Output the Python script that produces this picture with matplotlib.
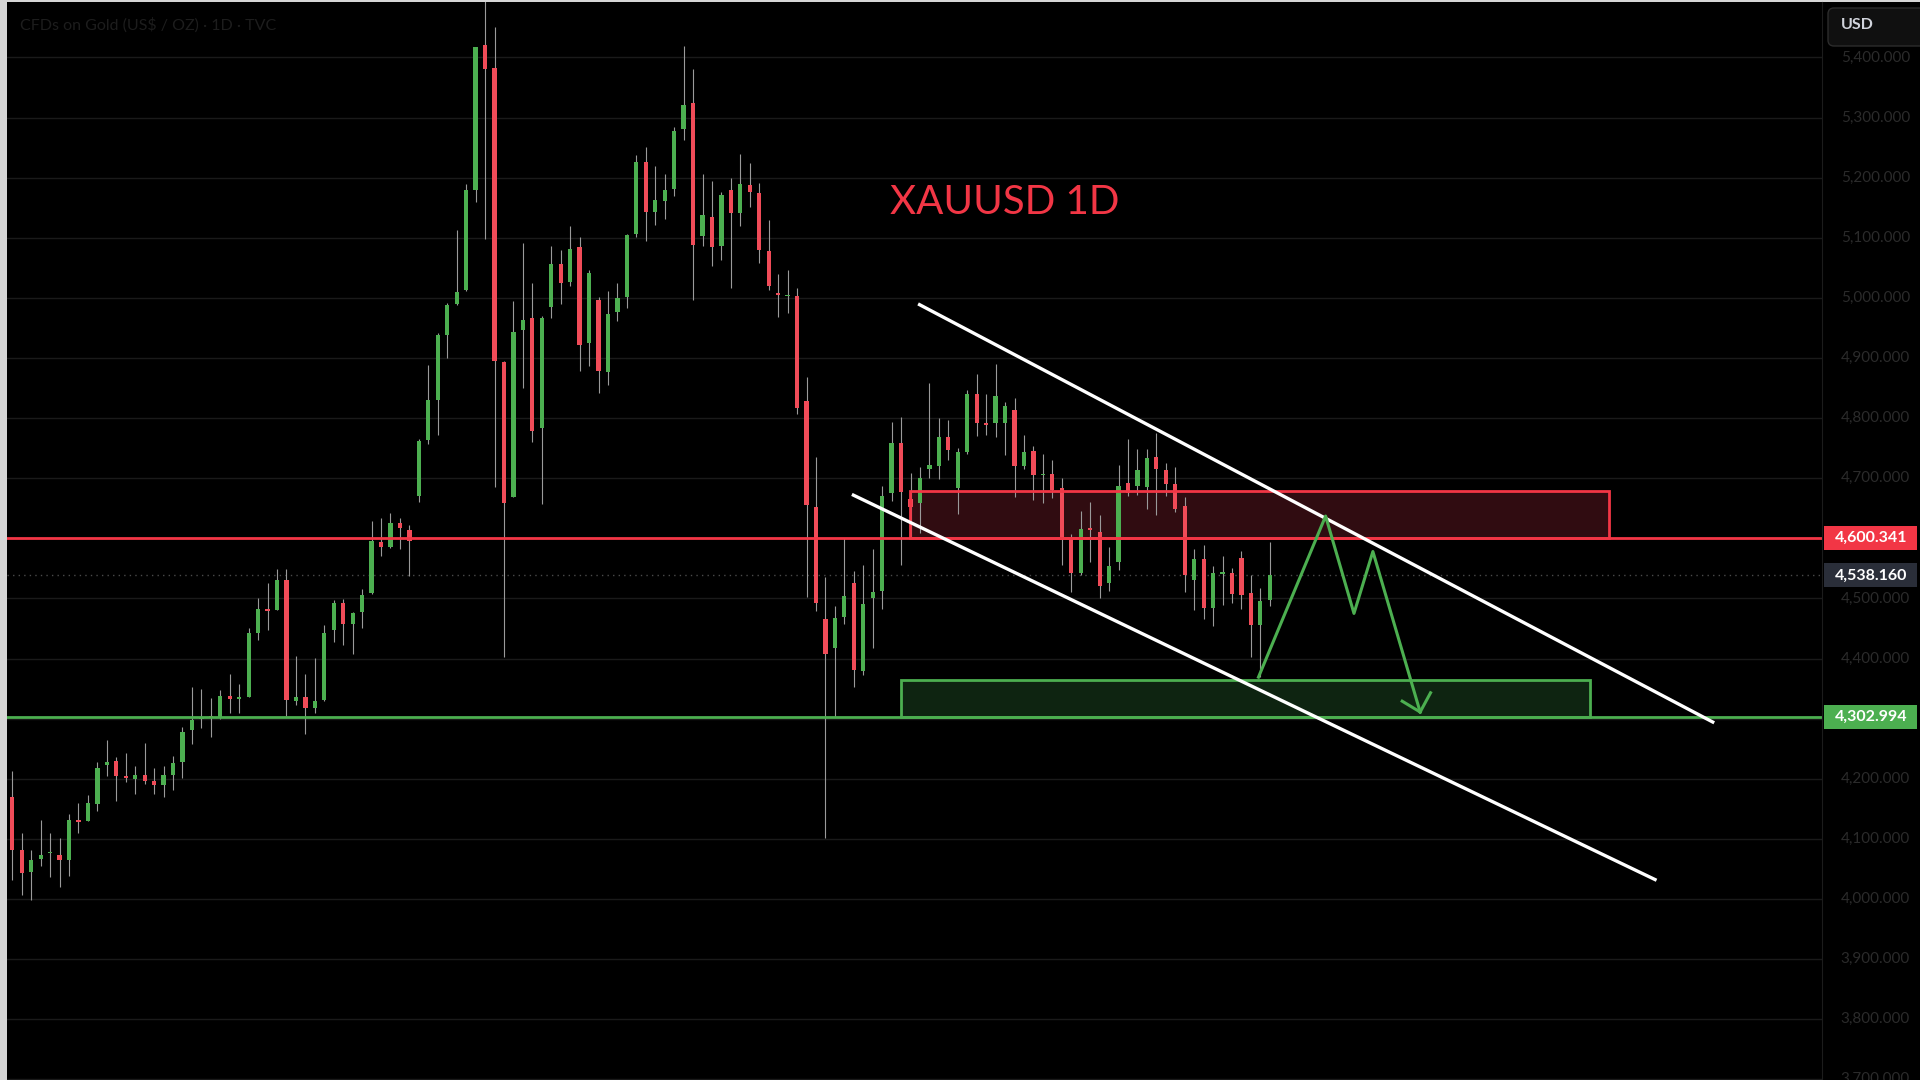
import matplotlib
matplotlib.use('Agg')
import matplotlib.pyplot as plt
import matplotlib.patches as patches

plt.rcParams['font.family'] = ['Lato', 'DejaVu Sans']

# daily candles (USD / oz)
opens = [4169, 4082, 4044, 4066, 4076, 4073, 4065, 4131, 4130, 4158,
         4222, 4229, 4205, 4200, 4206, 4197, 4190, 4206, 4228, 4281,
         4300, 4303, 4302, 4337, 4333, 4336, 4443, 4482, 4480, 4531,
         4330, 4336, 4318, 4331, 4448, 4493, 4457, 4478, 4509, 4594,
         4586, 4626, 4614, 4671, 4763, 4830, 4938, 4989, 5013, 5180,
         5421, 5383, 4893, 4669, 4947, 4966, 4784, 4985, 5056, 5026,
         5084, 4925, 4996, 4876, 4976, 5001, 5107, 5226, 5143, 5162,
         5181, 5281, 5324, 5103, 5134, 5086, 5180, 5141, 5187, 5175,
         5078, 5006, 5003, 5003, 4828, 4652, 4466, 4418, 4469, 4525,
         4380, 4500, 4513, 4675, 4758, 4665, 4659, 4716, 4720, 4768,
         4683, 4744, 4840, 4792, 4791, 4791, 4814, 4720, 4746, 4705,
         4707, 4683, 4598, 4542, 4616, 4611, 4525, 4560, 4692, 4687,
         4686, 4735, 4714, 4690, 4653, 4530, 4565, 4484, 4541, 4542,
         4567, 4509, 4456, 4497]
highs = [4212, 4110, 4082, 4131, 4110, 4101, 4141, 4160, 4173, 4227,
         4264, 4236, 4242, 4221, 4259, 4218, 4221, 4238, 4286, 4352,
         4350, 4335, 4348, 4374, 4358, 4450, 4500, 4525, 4549, 4549,
         4404, 4374, 4401, 4456, 4497, 4499, 4478, 4516, 4629, 4633,
         4642, 4633, 4622, 4766, 4889, 4941, 4992, 5113, 5189, 5417,
         5495, 5451, 4895, 4994, 5092, 5024, 4970, 5086, 5080, 5119,
         5101, 5046, 5001, 5012, 5024, 5106, 5238, 5251, 5219, 5206,
         5285, 5419, 5381, 5206, 5194, 5176, 5199, 5239, 5225, 5191,
         5129, 5040, 5046, 5017, 4868, 4736, 4536, 4487, 4601, 4545,
         4555, 4582, 4687, 4794, 4801, 4708, 4718, 4858, 4800, 4796,
         4750, 4847, 4873, 4840, 4890, 4827, 4833, 4772, 4753, 4740,
         4731, 4701, 4607, 4646, 4661, 4639, 4586, 4722, 4766, 4748,
         4748, 4775, 4726, 4718, 4668, 4583, 4589, 4554, 4571, 4550,
         4579, 4539, 4517, 4594]
lows = [4031, 4006, 3998, 4055, 4037, 4020, 4038, 4110, 4129, 4147,
        4205, 4163, 4195, 4175, 4191, 4175, 4170, 4181, 4202, 4257,
        4284, 4269, 4300, 4309, 4309, 4336, 4431, 4447, 4480, 4305,
        4323, 4274, 4309, 4330, 4427, 4423, 4407, 4451, 4507, 4570,
        4584, 4582, 4538, 4661, 4757, 4772, 4900, 4988, 5012, 5159,
        5098, 4685, 4403, 4669, 4850, 4760, 4657, 4967, 4989, 5020,
        4879, 4887, 4842, 4855, 4962, 4984, 5101, 5094, 5122, 5132,
        5169, 5262, 4997, 5086, 5053, 5063, 5016, 5120, 5151, 5058,
        5013, 4968, 4975, 4807, 4502, 4479, 4101, 4303, 4458, 4353,
        4372, 4418, 4483, 4662, 4555, 4600, 4608, 4700, 4699, 4730,
        4640, 4741, 4770, 4772, 4769, 4739, 4669, 4716, 4664, 4658,
        4667, 4556, 4511, 4539, 4561, 4500, 4513, 4547, 4671, 4672,
        4648, 4639, 4670, 4643, 4511, 4481, 4465, 4454, 4489, 4492,
        4482, 4403, 4370, 4487]
closes = [4081, 4043, 4065, 4073, 4078, 4064, 4131, 4128, 4160, 4217,
          4227, 4205, 4202, 4206, 4197, 4190, 4206, 4226, 4277, 4297,
          4303, 4301, 4337, 4333, 4336, 4442, 4482, 4479, 4531, 4331,
          4336, 4317, 4329, 4443, 4493, 4457, 4475, 4505, 4596, 4586,
          4625, 4617, 4595, 4762, 4830, 4939, 4988, 5009, 5180, 5417,
          5381, 4895, 4659, 4943, 4963, 4778, 4966, 5056, 5024, 5082,
          4921, 5042, 4879, 4973, 5000, 5105, 5226, 5143, 5163, 5180,
          5278, 5321, 5088, 5138, 5084, 5172, 5141, 5189, 5177, 5080,
          5019, 5005, 5004, 4817, 4655, 4492, 4407, 4468, 4504, 4381,
          4490, 4510, 4670, 4758, 4677, 4652, 4700, 4722, 4768, 4747,
          4743, 4840, 4792, 4789, 4836, 4820, 4720, 4743, 4705, 4707,
          4681, 4597, 4543, 4615, 4614, 4521, 4554, 4687, 4676, 4714,
          4733, 4715, 4690, 4648, 4539, 4565, 4484, 4542, 4543, 4508,
          4506, 4456, 4495, 4538.16]

price_ticks = list(range(3700, 5500, 100))
red_level = 4600.341
green_level = 4302.994
last_price = 4538.160
title = 'XAUUSD 1D'
symbol_text = 'CFDs on Gold (US$ / OZ) · 1D · TVC'

# drawings, in (bar index, price)
red_zone = [94.9, 168.9, 4600.341, 4678]
green_zone = [94.0, 166.9, 4302.994, 4365]
upper_channel_x = [95.8, 180.0]
upper_channel_y = [4990, 4293]
lower_channel_x = [88.8, 173.9]
lower_channel_y = [4673, 4031]
path_x = [131.8, 138.9, 141.9, 143.9, 148.9]
path_y = [4369, 4637, 4475, 4578, 4311]
wing_x = [147.0, 150.0]
wing_y = [4329, 4343]

UP = '#4caf50'
DOWN = '#f04b58'
RED = '#f23645'
W, H = 1920, 1080
ylo, yhi = 3698.7, 5492.3

fig = plt.figure(figsize=(19.2, 10.8), dpi=100, facecolor='#d6d6d6')
ax = fig.add_axes([7 / W, 0, 1815 / W, 1078 / H], facecolor='black')
ax.set_xlim(-0.56, 191.4)
ax.set_ylim(ylo, yhi)
ax.set_xticks([])
ax.set_yticks([])
for s in ax.spines.values():
    s.set_visible(False)

for p in price_ticks:
    ax.axhline(p, color='#1a1a1a', lw=1, zorder=0)

# candles
x = list(range(len(opens)))
ax.vlines(x, lows, highs, color='#9a9a9a', lw=0.8, zorder=3)
bottoms = [min(o, c) for o, c in zip(opens, closes)]
heights = [max(abs(c - o), 2.5) for o, c in zip(opens, closes)]
colors = [UP if c >= o else DOWN for o, c in zip(opens, closes)]
ax.bar(x, heights, bottom=bottoms, width=0.45, color=colors, zorder=3)

# zones
ax.add_patch(patches.Rectangle((red_zone[0], red_zone[2]), red_zone[1] - red_zone[0],
                               red_zone[3] - red_zone[2], facecolor='#300c11', edgecolor='none', zorder=1))
ax.add_patch(patches.Rectangle((red_zone[0], red_zone[2]), red_zone[1] - red_zone[0],
                               red_zone[3] - red_zone[2], facecolor='none', edgecolor=RED, lw=2, zorder=4))
ax.add_patch(patches.Rectangle((green_zone[0], green_zone[2]), green_zone[1] - green_zone[0],
                               green_zone[3] - green_zone[2], facecolor='#0e2411', edgecolor='none', zorder=1))
ax.add_patch(patches.Rectangle((green_zone[0], green_zone[2]), green_zone[1] - green_zone[0],
                               green_zone[3] - green_zone[2], facecolor='none', edgecolor=UP, lw=2, zorder=4))

ax.axhline(red_level, color=RED, lw=2, zorder=4)
ax.axhline(green_level, color=UP, lw=2, zorder=4)
ax.axhline(last_price, color='#4a4a4a', lw=1, ls=(0, (1, 3)), zorder=2)

# channel + projected path
ax.plot(upper_channel_x, upper_channel_y, color='white', lw=2.4, zorder=5, solid_capstyle='butt')
ax.plot(lower_channel_x, lower_channel_y, color='white', lw=2.4, zorder=5, solid_capstyle='butt')
ax.plot(path_x, path_y, color=UP, lw=2.2, zorder=6)
for wx, wy in zip(wing_x, wing_y):
    ax.plot([wx, path_x[-1]], [wy, path_y[-1]], color=UP, lw=2.2, zorder=6)

ax.text(92.8, 5140, title, color=RED, fontsize=29, va='baseline', ha='left', zorder=6)
fig.text(20 / W, 1 - 25 / H, symbol_text, color='#1d1d1d', fontsize=11.5, va='center', ha='left')

# price scale
axp = fig.add_axes([1822 / W, 0, 98 / W, 1078 / H], facecolor='black')
axp.set_xlim(0, 98)
axp.set_ylim(ylo, yhi)
axp.set_xticks([])
axp.set_yticks([])
for k, s in axp.spines.items():
    s.set_visible(k == 'left')
axp.spines['left'].set_color('#1c1c1c')

tag_h = 24 / 0.601
tags = [(red_level, RED), (last_price, '#2a2e39'), (green_level, UP)]
for p in price_ticks:
    # labels hidden behind the coloured price tags are not shown
    if any(abs(p - v) < tag_h * 0.6 and abs(p - v) < 10 for v, _ in tags):
        continue
    axp.text(88, p, f'{p:,.3f}', color='#2b2b2b', fontsize=11, ha='right', va='center')

for val, bg in tags:
    axp.add_patch(patches.Rectangle((2, val - tag_h / 2), 93, tag_h, facecolor=bg, edgecolor='none', zorder=5))
    axp.text(49, val, f'{val:,.3f}', color='white', fontsize=11.5, fontweight='bold',
             ha='center', va='center', zorder=6)

fig.patches.append(patches.FancyBboxPatch((18.28, 10.34), 1.1, 0.38, boxstyle='round,pad=0,rounding_size=0.06',
                                          transform=fig.dpi_scale_trans, facecolor='#101010',
                                          edgecolor='#2c2c2c', lw=1, figure=fig, zorder=10))
fig.text(1841 / W, 1 - 25 / H, 'USD', color='#d1d4dc', fontsize=11.5, fontweight='bold',
         va='center', ha='left', zorder=11)

fig.savefig('out.png', dpi=100, facecolor=fig.get_facecolor())
